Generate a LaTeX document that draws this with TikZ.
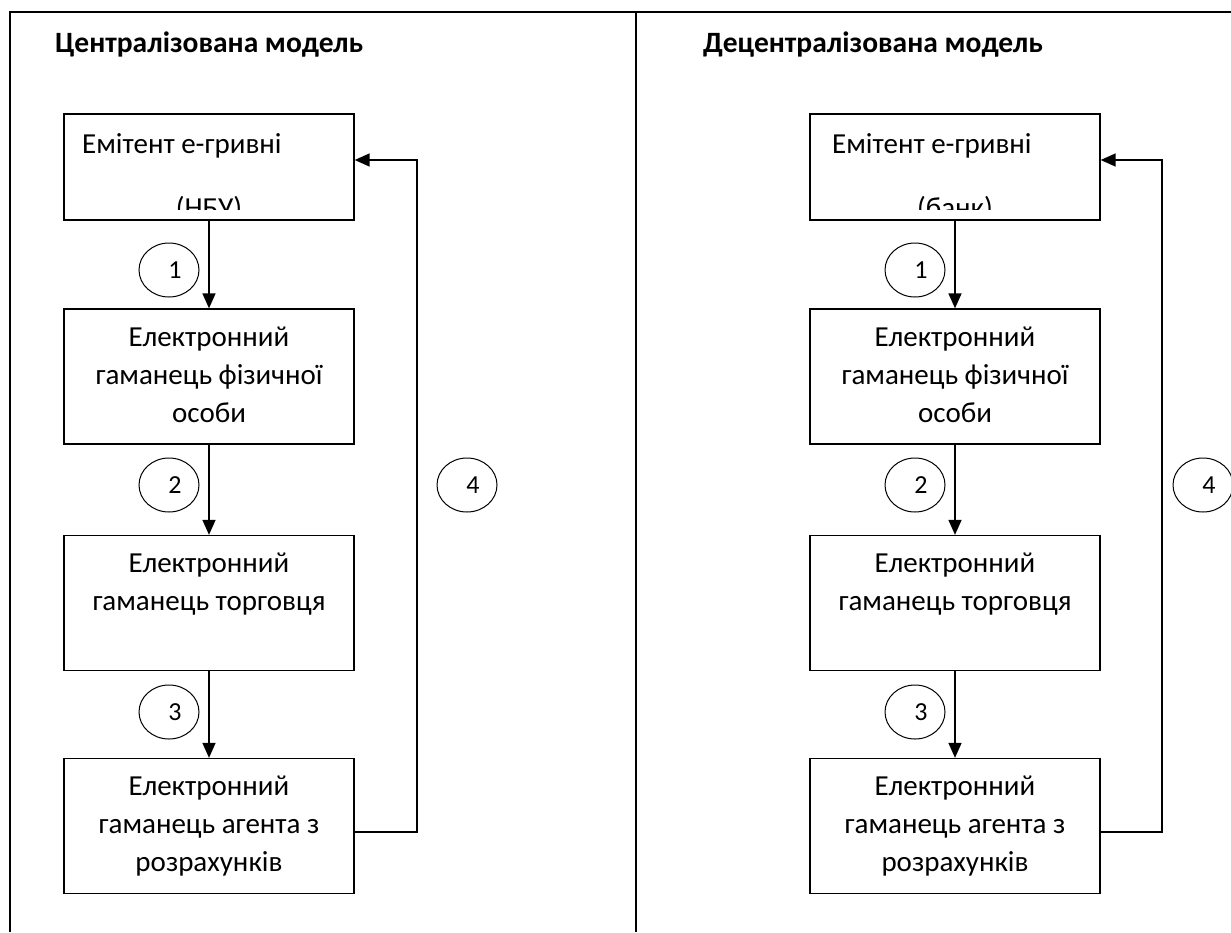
\documentclass[tikz,border=0pt]{standalone}
\usepackage{fontspec}
\setmainfont{Carlito}
\usetikzlibrary{arrows.meta,shapes.geometric,positioning}

\begin{document}
\begin{tikzpicture}[x=1pt,y=-1pt,
  body/.style={font=\fontsize{29}{38}\selectfont},
  title/.style={font=\fontsize{29.5}{34}\selectfont\bfseries,anchor=base west,inner sep=0pt},
  wallet/.style={body,draw,line width=1.3pt,minimum width=290pt,minimum height=135pt,inner sep=0pt,align=center},
  issuer/.style={draw,line width=1.3pt,minimum width=290pt,minimum height=106pt,inner sep=0pt},
  stepno/.style={draw,ellipse,line width=1pt,minimum width=60pt,minimum height=54pt,inner sep=0pt,font=\fontsize{26}{30}\selectfont},
  flow/.style={line width=1.5pt,-{Triangle[length=15pt,width=13pt]}}]
  \useasboundingbox (0,0) rectangle (1231,932);
  % table
  \draw[line width=2pt] (10,932) -- (10,12) -- (1231,12);
  \draw[line width=2pt] (636,12) -- (636,932);

  % centralised model
  \node[title] (ttlL) at (55,52) {Централізована модель};
  \node[issuer] (emL) at (209,167) {};
  \node[body,anchor=base west,inner sep=0pt] (emLt) at (82,153) {Емітент е-гривні};
  \begin{scope}
    \clip (emL.north west) rectangle ([yshift=11pt]emL.south east);
    \node[body,anchor=base] (nbu) at (209,217) {(НБУ)};
  \end{scope}
  \node[wallet] (fizL) at (209,376.5) {\strut Електронний\\гаманець фізичної\\особи\strut};
  \node[wallet] (trL) at (209,603) {\strut Електронний\\гаманець торговця\\\strut};
  \node[wallet] (agL) at (209,826) {\strut Електронний\\гаманець агента з\\розрахунків\strut};
  \draw[flow] (emL) -- (fizL);
  \draw[flow] (fizL) -- (trL);
  \draw[flow] (trL) -- (agL);
  \coordinate (fbL) at (417,160);
  \draw[flow] ([yshift=-6pt]agL.east) -| (fbL) -- ([yshift=7pt]emL.east);
  \node[stepno] (s1L) at (169,270) {\hspace*{12pt}1};
  \node[stepno] (s2L) at (169,485) {\hspace*{12pt}2};
  \node[stepno] (s3L) at (169,712) {\hspace*{12pt}3};
  \node[stepno] (s4L) at (467,485) {\hspace*{12pt}4};

  % decentralised model
  \node[title] (ttlR) at (703,52) {Децентралізована модель};
  \node[issuer] (emR) at (955,167) {};
  \node[body,anchor=base west,inner sep=0pt] (emRt) at (832,153) {Емітент е-гривні};
  \begin{scope}
    \clip (emR.north west) rectangle ([yshift=11pt]emR.south east);
    \node[body,anchor=base] (bank) at (955,217) {(банк)};
  \end{scope}
  \node[wallet] (fizR) at (955,376.5) {\strut Електронний\\гаманець фізичної\\особи\strut};
  \node[wallet] (trR) at (955,603) {\strut Електронний\\гаманець торговця\\\strut};
  \node[wallet] (agR) at (955,826) {\strut Електронний\\гаманець агента з\\розрахунків\strut};
  \draw[flow] (emR) -- (fizR);
  \draw[flow] (fizR) -- (trR);
  \draw[flow] (trR) -- (agR);
  \coordinate (fbR) at (1162,160);
  \draw[flow] ([yshift=-6pt]agR.east) -| (fbR) -- ([yshift=7pt]emR.east);
  \node[stepno] (s1R) at (915,270) {\hspace*{12pt}1};
  \node[stepno] (s2R) at (915,485) {\hspace*{12pt}2};
  \node[stepno] (s3R) at (915,712) {\hspace*{12pt}3};
  \node[stepno] (s4R) at (1203,485) {\hspace*{12pt}4};
\end{tikzpicture}
\end{document}
